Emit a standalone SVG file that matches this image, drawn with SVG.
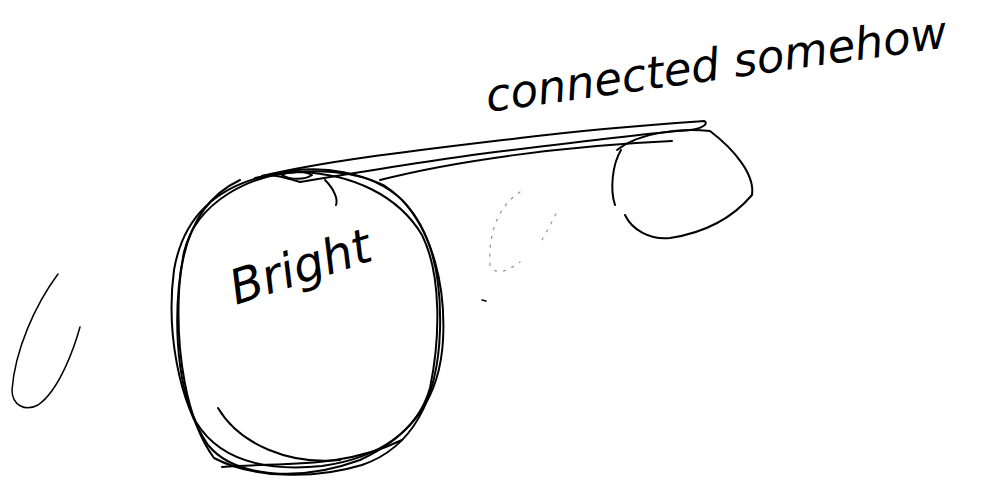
<svg xmlns="http://www.w3.org/2000/svg" width="997" height="489" viewBox="0 0 997 489">
<style>
.ink{fill:none;stroke:#000;stroke-width:2;stroke-linecap:round;stroke-linejoin:round}
.faint{fill:none;stroke:#999;stroke-width:1.3;stroke-dasharray:2 7;stroke-linecap:round}
.hand{font-family:"DejaVu Sans","Liberation Sans",sans-serif;font-style:italic;fill:#000}
</style>
<rect width="997" height="489" fill="#fff"/>
<g id="connectors">
<path class="ink" d="M262,176 C330,160 420,150 520,138 C600,128 660,124 704,121 C710,124 700,129 690,130 C640,134 560,144 480,154 C420,162 360,172 300,182"/>
<path class="ink" d="M380,180 C450,162 560,146 672,141"/>
<path class="ink" d="M300,182 C280,176 270,174 262,176"/>
</g>
<g id="node-bright">
<path class="ink" d="M270,175 C320,162 372,172 402,200 C432,232 446,285 443,340 C440,395 415,435 360,460 C300,482 235,478 208,445 C178,400 166,330 174,270 C184,212 222,185 270,175 Z"/>
<path class="ink" d="M300,172 C352,174 398,195 422,235 C442,275 440,340 430,388 C418,430 380,458 322,466 C262,472 218,458 196,422 C176,382 172,312 184,252 C196,202 250,174 300,172"/>
<path class="ink" d="M240,180 C202,198 182,235 179,292 C176,352 186,420 214,458 C252,478 312,480 362,465 C412,448 438,400 440,330 C442,262 425,212 385,186 C350,168 300,168 255,178"/>
<path class="ink" d="M218,408 C240,445 290,465 340,460"/>
<path class="ink" d="M222,467 C280,462 340,470 402,440"/>
<path class="ink" d="M282,175 C290,170 305,171 312,175 C305,180 290,180 282,175"/>
<path class="ink" d="M325,180 C335,190 338,200 336,205"/>
<text class="hand" x="236" y="305" font-size="48" transform="rotate(-18 236 305)">Bright</text>
</g>
<g id="node-right">
<path class="ink" d="M617,150 C640,132 680,128 710,131 C735,150 755,175 752,195 C735,215 710,232 670,238 C650,240 632,230 625,215"/>
<path class="ink" d="M621,150 C612,165 610,190 615,205"/>
</g>
<g id="node-faint">
<path class="faint" d="M520,192 C500,205 488,230 490,265 C495,275 505,273 520,262"/>
<path class="faint" d="M556,214 C550,225 545,235 542,240"/>
<path class="ink" d="M482,300 L486,301" style="stroke-width:1.5"/>
</g>
<g id="node-left">
<path class="ink" d="M58,274 C35,305 15,350 12,390 C12,405 25,412 38,405 C60,390 75,345 80,327" style="stroke-width:1.5"/>
</g>
<g id="label">
<text class="hand" x="488" y="112" font-size="45" transform="rotate(-8 488 112)">connected somehow</text>
</g>
</svg>
